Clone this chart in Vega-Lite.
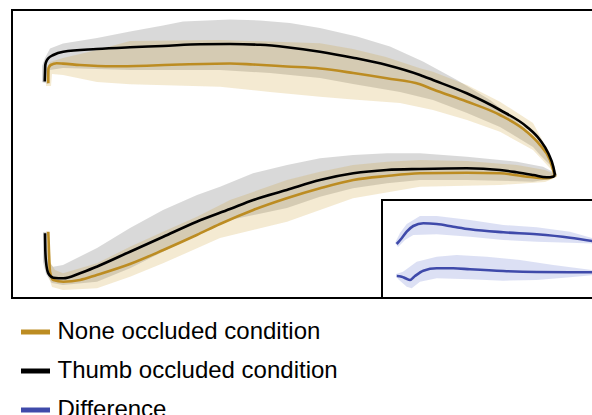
{
  "$schema": "https://vega.github.io/schema/vega-lite/v6.json",
  "width": 590,
  "height": 288,
  "autosize": {"type": "none"},
  "padding": {"left": 12, "top": 10, "right": 0, "bottom": 117},
  "background": "white",
  "config": {
    "view": {"stroke": "black", "strokeWidth": 2},
    "legend": {
      "orient": "none", "legendX": 6.5, "legendY": 305, "title": null,
      "symbolType": "stroke", "symbolSize": 841, "symbolStrokeWidth": 5,
      "labelFontSize": 24, "labelFont": "Liberation Sans", "labelColor": "black",
      "rowPadding": 10, "labelOffset": 5, "padding": 0, "labelLimit": 500
    }
  },
  "datasets": {
    "bands": [
      {"g":"tu","i":0,"x":30,"y":216},{"g":"tu","i":1,"x":30,"y":232},{"g":"tu","i":2,"x":33,"y":240},{"g":"tu","i":3,"x":38,"y":249.5},{"g":"tu","i":4,"x":51,"y":254.5},{"g":"tu","i":5,"x":85,"y":260},{"g":"tu","i":6,"x":118,"y":266.5},{"g":"tu","i":7,"x":151,"y":272.5},{"g":"tu","i":8,"x":171,"y":276.5},{"g":"tu","i":9,"x":218,"y":278.5},{"g":"tu","i":10,"x":248,"y":277.5},{"g":"tu","i":11,"x":278,"y":275},{"g":"tu","i":12,"x":308,"y":270},{"g":"tu","i":13,"x":345,"y":261.5},{"g":"tu","i":14,"x":378,"y":251.5},{"g":"tu","i":15,"x":411,"y":236.5},{"g":"tu","i":16,"x":445,"y":218},{"g":"tu","i":17,"x":478,"y":198},{"g":"tu","i":18,"x":511,"y":171.5},{"g":"tu","i":19,"x":528,"y":155},{"g":"tu","i":20,"x":541,"y":135},{"g":"tu","i":21,"x":545,"y":123},{"g":"tu","i":22,"x":541,"y":130},{"g":"tu","i":23,"x":528,"y":143},{"g":"tu","i":24,"x":521,"y":151},{"g":"tu","i":25,"x":488,"y":171},{"g":"tu","i":26,"x":455,"y":185},{"g":"tu","i":27,"x":421,"y":198},{"g":"tu","i":28,"x":388,"y":206},{"g":"tu","i":29,"x":341,"y":214},{"g":"tu","i":30,"x":308,"y":220},{"g":"tu","i":31,"x":258,"y":225},{"g":"tu","i":32,"x":208,"y":228},{"g":"tu","i":33,"x":118,"y":228},{"g":"tu","i":34,"x":51,"y":230},{"g":"tu","i":35,"x":38,"y":228},{"g":"tu","i":36,"x":36,"y":214},
      {"g":"nu","i":0,"x":34,"y":212},{"g":"nu","i":1,"x":34,"y":228},{"g":"nu","i":2,"x":38,"y":236},{"g":"nu","i":3,"x":51,"y":240},{"g":"nu","i":4,"x":85,"y":248},{"g":"nu","i":5,"x":118,"y":257},{"g":"nu","i":6,"x":208,"y":258},{"g":"nu","i":7,"x":308,"y":254.7},{"g":"nu","i":8,"x":341,"y":249},{"g":"nu","i":9,"x":374,"y":241},{"g":"nu","i":10,"x":408,"y":229.7},{"g":"nu","i":11,"x":421,"y":226.3},{"g":"nu","i":12,"x":455,"y":213},{"g":"nu","i":13,"x":488,"y":196.3},{"g":"nu","i":14,"x":521,"y":175},{"g":"nu","i":15,"x":533,"y":153},{"g":"nu","i":16,"x":541,"y":135},{"g":"nu","i":17,"x":545,"y":122},{"g":"nu","i":18,"x":536,"y":132},{"g":"nu","i":19,"x":521,"y":148},{"g":"nu","i":20,"x":488,"y":166.3},{"g":"nu","i":21,"x":455,"y":178},{"g":"nu","i":22,"x":421,"y":188},{"g":"nu","i":23,"x":388,"y":195},{"g":"nu","i":24,"x":341,"y":198.5},{"g":"nu","i":25,"x":308,"y":201.3},{"g":"nu","i":26,"x":258,"y":206},{"g":"nu","i":27,"x":208,"y":211.3},{"g":"nu","i":28,"x":118,"y":213.7},{"g":"nu","i":29,"x":85,"y":216},{"g":"nu","i":30,"x":51,"y":223},{"g":"nu","i":31,"x":40,"y":224},{"g":"nu","i":32,"x":39,"y":212},
      {"g":"tl","i":0,"x":31,"y":66},{"g":"tl","i":1,"x":31,"y":36},{"g":"tl","i":2,"x":34,"y":24},{"g":"tl","i":3,"x":39.7,"y":15},{"g":"tl","i":4,"x":51,"y":13},{"g":"tl","i":5,"x":85,"y":16.3},{"g":"tl","i":6,"x":118,"y":29.7},{"g":"tl","i":7,"x":151,"y":46.3},{"g":"tl","i":8,"x":185,"y":63},{"g":"tl","i":9,"x":218,"y":78},{"g":"tl","i":10,"x":275,"y":90},{"g":"tl","i":11,"x":308,"y":101.3},{"g":"tl","i":12,"x":341,"y":109.7},{"g":"tl","i":13,"x":375,"y":114.7},{"g":"tl","i":14,"x":408,"y":118},{"g":"tl","i":15,"x":455,"y":118},{"g":"tl","i":16,"x":521,"y":116.3},{"g":"tl","i":17,"x":538,"y":119},{"g":"tl","i":18,"x":545,"y":122},{"g":"tl","i":19,"x":545,"y":124},{"g":"tl","i":20,"x":531,"y":131.3},{"g":"tl","i":21,"x":505,"y":136.3},{"g":"tl","i":22,"x":455,"y":141.3},{"g":"tl","i":23,"x":408,"y":144.7},{"g":"tl","i":24,"x":375,"y":144.7},{"g":"tl","i":25,"x":341,"y":143},{"g":"tl","i":26,"x":308,"y":139.7},{"g":"tl","i":27,"x":275,"y":133},{"g":"tl","i":28,"x":241,"y":124.7},{"g":"tl","i":29,"x":208,"y":111.3},{"g":"tl","i":30,"x":185,"y":103},{"g":"tl","i":31,"x":151,"y":88},{"g":"tl","i":32,"x":118,"y":70},{"g":"tl","i":33,"x":85,"y":50},{"g":"tl","i":34,"x":51,"y":33},{"g":"tl","i":35,"x":41,"y":31.3},{"g":"tl","i":36,"x":37,"y":36},{"g":"tl","i":37,"x":35,"y":53},{"g":"tl","i":38,"x":35,"y":66},
      {"g":"nl","i":0,"x":34,"y":67},{"g":"nl","i":1,"x":38,"y":36},{"g":"nl","i":2,"x":43,"y":28},{"g":"nl","i":3,"x":51,"y":24.7},{"g":"nl","i":4,"x":85,"y":34.7},{"g":"nl","i":5,"x":118,"y":51.3},{"g":"nl","i":6,"x":151,"y":66.3},{"g":"nl","i":7,"x":185,"y":81.3},{"g":"nl","i":8,"x":218,"y":98},{"g":"nl","i":9,"x":275,"y":118},{"g":"nl","i":10,"x":308,"y":126.3},{"g":"nl","i":11,"x":341,"y":133},{"g":"nl","i":12,"x":375,"y":136.3},{"g":"nl","i":13,"x":408,"y":138},{"g":"nl","i":14,"x":455,"y":137},{"g":"nl","i":15,"x":505,"y":133},{"g":"nl","i":16,"x":533,"y":128},{"g":"nl","i":17,"x":545,"y":123},{"g":"nl","i":18,"x":545,"y":121},{"g":"nl","i":19,"x":533,"y":116},{"g":"nl","i":20,"x":488,"y":113},{"g":"nl","i":21,"x":408,"y":111.3},{"g":"nl","i":22,"x":341,"y":99.7},{"g":"nl","i":23,"x":275,"y":76.3},{"g":"nl","i":24,"x":208,"y":60},{"g":"nl","i":25,"x":185,"y":49.7},{"g":"nl","i":26,"x":151,"y":34.7},{"g":"nl","i":27,"x":118,"y":21.3},{"g":"nl","i":28,"x":85,"y":9.7},{"g":"nl","i":29,"x":51,"y":8},{"g":"nl","i":30,"x":40,"y":11},{"g":"nl","i":31,"x":36,"y":23},{"g":"nl","i":32,"x":35,"y":53},{"g":"nl","i":33,"x":35,"y":67},
      {"g":"du","i":0,"x":383,"y":55},{"g":"du","i":1,"x":388,"y":65},{"g":"du","i":2,"x":394.7,"y":74},{"g":"du","i":3,"x":408,"y":82},{"g":"du","i":4,"x":424.7,"y":82},{"g":"du","i":5,"x":458,"y":78},{"g":"du","i":6,"x":491.3,"y":73},{"g":"du","i":7,"x":524.7,"y":70.7},{"g":"du","i":8,"x":558,"y":66.3},{"g":"du","i":9,"x":583,"y":59},{"g":"du","i":10,"x":583,"y":54.5},{"g":"du","i":11,"x":558,"y":55.3},{"g":"du","i":12,"x":524.7,"y":56.3},{"g":"du","i":13,"x":491.3,"y":58},{"g":"du","i":14,"x":458,"y":61.3},{"g":"du","i":15,"x":424.7,"y":63.7},{"g":"du","i":16,"x":401.3,"y":63},{"g":"du","i":17,"x":393,"y":58},{"g":"du","i":18,"x":386,"y":51},
      {"g":"dl","i":0,"x":384,"y":24},{"g":"dl","i":1,"x":391,"y":26.3},{"g":"dl","i":2,"x":404.7,"y":36.3},{"g":"dl","i":3,"x":424.7,"y":41.3},{"g":"dl","i":4,"x":444.7,"y":43},{"g":"dl","i":5,"x":474.7,"y":41.3},{"g":"dl","i":6,"x":508,"y":38},{"g":"dl","i":7,"x":541.3,"y":33},{"g":"dl","i":8,"x":583,"y":27.5},{"g":"dl","i":9,"x":583,"y":23},{"g":"dl","i":10,"x":558,"y":20.7},{"g":"dl","i":11,"x":524.7,"y":18},{"g":"dl","i":12,"x":491.3,"y":17.3},{"g":"dl","i":13,"x":458,"y":18.7},{"g":"dl","i":14,"x":424.7,"y":19.7},{"g":"dl","i":15,"x":408,"y":16.3},{"g":"dl","i":16,"x":399.7,"y":9.7},{"g":"dl","i":17,"x":394.7,"y":11.3},{"g":"dl","i":18,"x":386,"y":19}
    ],
    "lines": [
      {"c":"None occluded condition","g":"nu","i":0,"x":36.3,"y":214.7},{"c":"None occluded condition","g":"nu","i":1,"x":36.3,"y":226},{"c":"None occluded condition","g":"nu","i":2,"x":36.5,"y":229.7},{"c":"None occluded condition","g":"nu","i":3,"x":38.7,"y":233},{"c":"None occluded condition","g":"nu","i":4,"x":44.7,"y":234.7},{"c":"None occluded condition","g":"nu","i":5,"x":51,"y":234.4},{"c":"None occluded condition","g":"nu","i":6,"x":68,"y":233},{"c":"None occluded condition","g":"nu","i":7,"x":101.3,"y":231.7},{"c":"None occluded condition","g":"nu","i":8,"x":134.7,"y":232.3},{"c":"None occluded condition","g":"nu","i":9,"x":168,"y":233.5},{"c":"None occluded condition","g":"nu","i":10,"x":218,"y":234.5},{"c":"None occluded condition","g":"nu","i":11,"x":241,"y":233.5},{"c":"None occluded condition","g":"nu","i":12,"x":274.7,"y":231.5},{"c":"None occluded condition","g":"nu","i":13,"x":308,"y":229.5},{"c":"None occluded condition","g":"nu","i":14,"x":341.3,"y":225},{"c":"None occluded condition","g":"nu","i":15,"x":374.7,"y":219.7},{"c":"None occluded condition","g":"nu","i":16,"x":408,"y":213.7},{"c":"None occluded condition","g":"nu","i":17,"x":421.3,"y":208.5},{"c":"None occluded condition","g":"nu","i":18,"x":454.7,"y":196.5},{"c":"None occluded condition","g":"nu","i":19,"x":488,"y":183},{"c":"None occluded condition","g":"nu","i":20,"x":514.7,"y":166.3},{"c":"None occluded condition","g":"nu","i":21,"x":528,"y":153},{"c":"None occluded condition","g":"nu","i":22,"x":538,"y":138},{"c":"None occluded condition","g":"nu","i":23,"x":542,"y":125},{"c":"None occluded condition","g":"nu","i":24,"x":543,"y":122},
      {"c":"None occluded condition","g":"nl","i":0,"x":36.3,"y":66.3},{"c":"None occluded condition","g":"nl","i":1,"x":37,"y":46.3},{"c":"None occluded condition","g":"nl","i":2,"x":38,"y":26.3},{"c":"None occluded condition","g":"nl","i":3,"x":41.3,"y":18},{"c":"None occluded condition","g":"nl","i":4,"x":51.3,"y":16.3},{"c":"None occluded condition","g":"nl","i":5,"x":68,"y":18},{"c":"None occluded condition","g":"nl","i":6,"x":84.7,"y":23},{"c":"None occluded condition","g":"nl","i":7,"x":118,"y":34},{"c":"None occluded condition","g":"nl","i":8,"x":151.3,"y":48},{"c":"None occluded condition","g":"nl","i":9,"x":184.7,"y":63},{"c":"None occluded condition","g":"nl","i":10,"x":208,"y":74},{"c":"None occluded condition","g":"nl","i":11,"x":241.3,"y":88},{"c":"None occluded condition","g":"nl","i":12,"x":274.7,"y":99.7},{"c":"None occluded condition","g":"nl","i":13,"x":308,"y":109.7},{"c":"None occluded condition","g":"nl","i":14,"x":341.3,"y":118},{"c":"None occluded condition","g":"nl","i":15,"x":374.7,"y":122},{"c":"None occluded condition","g":"nl","i":16,"x":408,"y":124.7},{"c":"None occluded condition","g":"nl","i":17,"x":454.7,"y":125.3},{"c":"None occluded condition","g":"nl","i":18,"x":488,"y":124.7},{"c":"None occluded condition","g":"nl","i":19,"x":521,"y":120.7},{"c":"None occluded condition","g":"nl","i":20,"x":534.7,"y":119.7},{"c":"None occluded condition","g":"nl","i":21,"x":541,"y":121.5},{"c":"None occluded condition","g":"nl","i":22,"x":543,"y":122.5},
      {"c":"Thumb occluded condition","g":"tu","i":0,"x":32.7,"y":216.5},{"c":"Thumb occluded condition","g":"tu","i":1,"x":33,"y":226},{"c":"Thumb occluded condition","g":"tu","i":2,"x":33.3,"y":233},{"c":"Thumb occluded condition","g":"tu","i":3,"x":34.5,"y":237},{"c":"Thumb occluded condition","g":"tu","i":4,"x":36.3,"y":239.7},{"c":"Thumb occluded condition","g":"tu","i":5,"x":41.3,"y":243},{"c":"Thumb occluded condition","g":"tu","i":6,"x":51.3,"y":246.3},{"c":"Thumb occluded condition","g":"tu","i":7,"x":84.7,"y":249},{"c":"Thumb occluded condition","g":"tu","i":8,"x":118,"y":250.7},{"c":"Thumb occluded condition","g":"tu","i":9,"x":151,"y":252},{"c":"Thumb occluded condition","g":"tu","i":10,"x":188,"y":253.7},{"c":"Thumb occluded condition","g":"tu","i":11,"x":218,"y":254},{"c":"Thumb occluded condition","g":"tu","i":12,"x":248,"y":253.2},{"c":"Thumb occluded condition","g":"tu","i":13,"x":275,"y":250.8},{"c":"Thumb occluded condition","g":"tu","i":14,"x":308,"y":246.3},{"c":"Thumb occluded condition","g":"tu","i":15,"x":341,"y":240.3},{"c":"Thumb occluded condition","g":"tu","i":16,"x":374.7,"y":233},{"c":"Thumb occluded condition","g":"tu","i":17,"x":408,"y":223},{"c":"Thumb occluded condition","g":"tu","i":18,"x":421,"y":218},{"c":"Thumb occluded condition","g":"tu","i":19,"x":454.7,"y":204.7},{"c":"Thumb occluded condition","g":"tu","i":20,"x":488,"y":188},{"c":"Thumb occluded condition","g":"tu","i":21,"x":514.7,"y":171.3},{"c":"Thumb occluded condition","g":"tu","i":22,"x":528,"y":158},{"c":"Thumb occluded condition","g":"tu","i":23,"x":536.3,"y":144.7},{"c":"Thumb occluded condition","g":"tu","i":24,"x":541.3,"y":131.3},{"c":"Thumb occluded condition","g":"tu","i":25,"x":543,"y":123},
      {"c":"Thumb occluded condition","g":"tl","i":0,"x":33,"y":64.7},{"c":"Thumb occluded condition","g":"tl","i":1,"x":33.3,"y":48},{"c":"Thumb occluded condition","g":"tl","i":2,"x":34,"y":36.3},{"c":"Thumb occluded condition","g":"tl","i":3,"x":36.3,"y":24.7},{"c":"Thumb occluded condition","g":"tl","i":4,"x":41.3,"y":20.3},{"c":"Thumb occluded condition","g":"tl","i":5,"x":51.3,"y":19.7},{"c":"Thumb occluded condition","g":"tl","i":6,"x":68,"y":24.7},{"c":"Thumb occluded condition","g":"tl","i":7,"x":84.7,"y":31.3},{"c":"Thumb occluded condition","g":"tl","i":8,"x":118,"y":46.3},{"c":"Thumb occluded condition","g":"tl","i":9,"x":151.3,"y":61.3},{"c":"Thumb occluded condition","g":"tl","i":10,"x":184.7,"y":76.3},{"c":"Thumb occluded condition","g":"tl","i":11,"x":218,"y":89},{"c":"Thumb occluded condition","g":"tl","i":12,"x":241.3,"y":98},{"c":"Thumb occluded condition","g":"tl","i":13,"x":274.7,"y":108},{"c":"Thumb occluded condition","g":"tl","i":14,"x":308,"y":118},{"c":"Thumb occluded condition","g":"tl","i":15,"x":341.3,"y":124.7},{"c":"Thumb occluded condition","g":"tl","i":16,"x":374.7,"y":128},{"c":"Thumb occluded condition","g":"tl","i":17,"x":408,"y":129},{"c":"Thumb occluded condition","g":"tl","i":18,"x":454.7,"y":129.7},{"c":"Thumb occluded condition","g":"tl","i":19,"x":488,"y":128},{"c":"Thumb occluded condition","g":"tl","i":20,"x":504.7,"y":125.7},{"c":"Thumb occluded condition","g":"tl","i":21,"x":521.3,"y":123},{"c":"Thumb occluded condition","g":"tl","i":22,"x":534.7,"y":120.7},{"c":"Thumb occluded condition","g":"tl","i":23,"x":541.3,"y":121.3},{"c":"Thumb occluded condition","g":"tl","i":24,"x":543,"y":123},
      {"c":"Difference","g":"du","i":0,"x":384.7,"y":54},{"c":"Difference","g":"du","i":1,"x":389.7,"y":59.7},{"c":"Difference","g":"du","i":2,"x":394.7,"y":66.3},{"c":"Difference","g":"du","i":3,"x":401.3,"y":72},{"c":"Difference","g":"du","i":4,"x":411.3,"y":74.7},{"c":"Difference","g":"du","i":5,"x":424.7,"y":74},{"c":"Difference","g":"du","i":6,"x":441.3,"y":71.3},{"c":"Difference","g":"du","i":7,"x":458,"y":68.7},{"c":"Difference","g":"du","i":8,"x":491.3,"y":65.7},{"c":"Difference","g":"du","i":9,"x":524.7,"y":63.7},{"c":"Difference","g":"du","i":10,"x":558,"y":60.3},{"c":"Difference","g":"du","i":11,"x":583,"y":56.5},
      {"c":"Difference","g":"dl","i":0,"x":384.7,"y":22},{"c":"Difference","g":"dl","i":1,"x":389.7,"y":21.3},{"c":"Difference","g":"dl","i":2,"x":394,"y":19.5},{"c":"Difference","g":"dl","i":3,"x":398,"y":18},{"c":"Difference","g":"dl","i":4,"x":403,"y":22},{"c":"Difference","g":"dl","i":5,"x":411.3,"y":27.3},{"c":"Difference","g":"dl","i":6,"x":424.7,"y":29.7},{"c":"Difference","g":"dl","i":7,"x":441.3,"y":29.7},{"c":"Difference","g":"dl","i":8,"x":458,"y":28.7},{"c":"Difference","g":"dl","i":9,"x":491.3,"y":27},{"c":"Difference","g":"dl","i":10,"x":524.7,"y":26},{"c":"Difference","g":"dl","i":11,"x":558,"y":25.7},{"c":"Difference","g":"dl","i":12,"x":583,"y":25.7}
    ],
    "frame": [{"k": "inset"}]
  },
  "layer": [
    {
      "data": {"name": "bands"},
      "transform": [{"filter": "datum.g === 'tu' || datum.g === 'tl'"}],
      "mark": {"type": "line", "filled": true, "color": "#000000", "fillOpacity": 0.15},
      "encoding": {
        "x": {"field": "x", "type": "quantitative", "scale": {"domain": [0, 590], "nice": false, "zero": false}, "axis": null},
        "y": {"field": "y", "type": "quantitative", "scale": {"domain": [0, 288], "nice": false, "zero": false}, "axis": null},
        "detail": {"field": "g"},
        "order": {"field": "i", "type": "quantitative"}
      }
    },
    {
      "data": {"name": "bands"},
      "transform": [{"filter": "datum.g === 'nu' || datum.g === 'nl'"}],
      "mark": {"type": "line", "filled": true, "color": "#C8961E", "fillOpacity": 0.2},
      "encoding": {
        "x": {"field": "x", "type": "quantitative"},
        "y": {"field": "y", "type": "quantitative"},
        "detail": {"field": "g"},
        "order": {"field": "i", "type": "quantitative"}
      }
    },
    {
      "data": {"name": "frame"},
      "mark": {"type": "rect", "fill": "white", "stroke": "black", "strokeWidth": 2},
      "encoding": {
        "x": {"datum": 370, "type": "quantitative"},
        "x2": {"datum": 595},
        "y": {"datum": 0, "type": "quantitative"},
        "y2": {"datum": 98}
      }
    },
    {
      "data": {"name": "bands"},
      "transform": [{"filter": "datum.g === 'du' || datum.g === 'dl'"}],
      "mark": {"type": "line", "filled": true, "color": "#3F51C0", "fillOpacity": 0.18},
      "encoding": {
        "x": {"field": "x", "type": "quantitative"},
        "y": {"field": "y", "type": "quantitative"},
        "detail": {"field": "g"},
        "order": {"field": "i", "type": "quantitative"}
      }
    },
    {
      "data": {"name": "lines"},
      "mark": {"type": "line", "strokeWidth": 2.6, "interpolate": "monotone"},
      "encoding": {
        "x": {"field": "x", "type": "quantitative"},
        "y": {"field": "y", "type": "quantitative"},
        "detail": {"field": "g"},
        "order": {"field": "i", "type": "quantitative"},
        "color": {
          "field": "c", "type": "nominal",
          "scale": {"domain": ["None occluded condition", "Thumb occluded condition", "Difference"], "range": ["#BC8C22", "#000000", "#3F4AAA"]}
        }
      }
    }
  ]
}
